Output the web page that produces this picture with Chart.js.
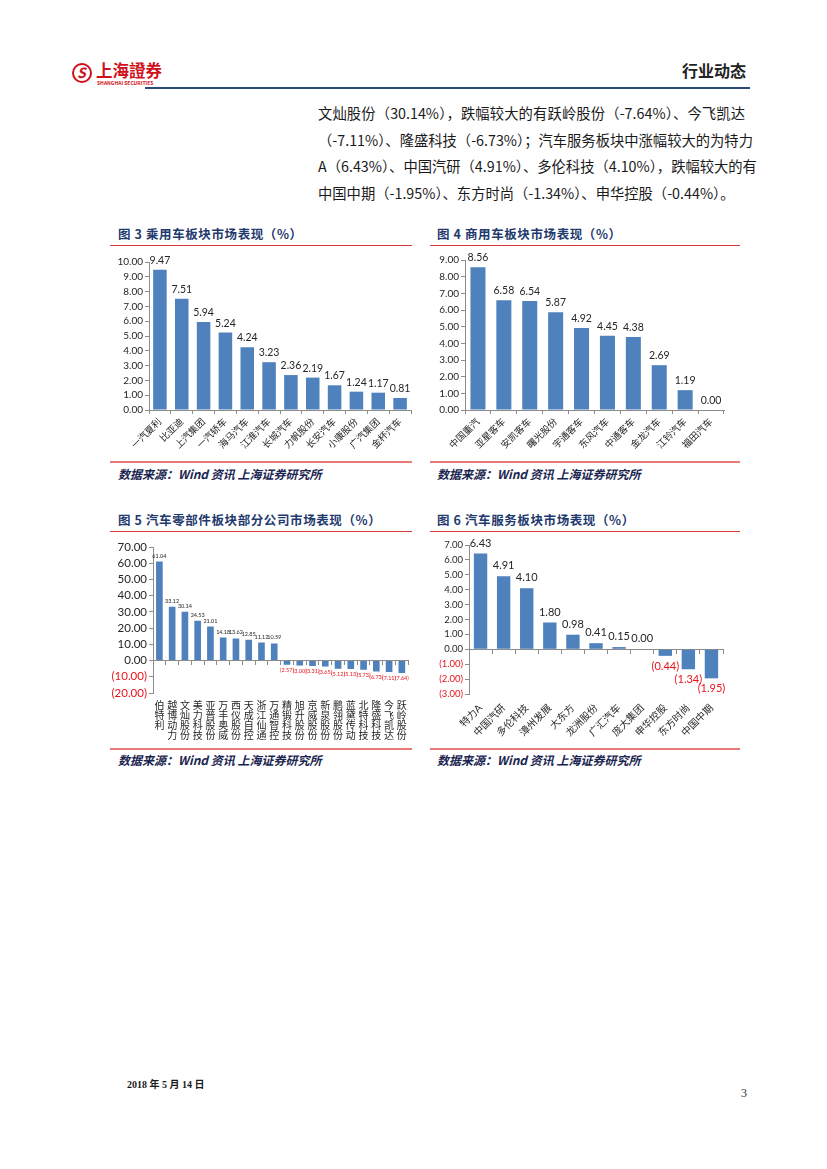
<!DOCTYPE html>
<html><head><meta charset="utf-8">
<script src="https://cdn.jsdelivr.net/npm/chart.js@4.4.0/dist/chart.umd.min.js"></script>
<style>
body{margin:0;width:827px;height:1169px;position:relative;background:#fff;font-family:"Noto Sans CJK SC",sans-serif;overflow:hidden}
.a{position:absolute;white-space:nowrap}
.body{left:318px;width:427px;font-size:14.3px;line-height:16px;color:#1a1a1a;text-align:justify;text-align-last:justify}
.title{font-size:12.5px;line-height:14px;font-weight:bold;color:#1f3a6e;letter-spacing:0.6px}
.src{font-size:12px;line-height:14px;font-weight:bold;font-style:italic;color:#1b2650}
.rl{height:1px;background:#d9383a}
.rb{height:2px;background:#e87b78}
.box{position:absolute}
</style></head><body>
<!-- header -->
<div class="a" style="left:72px;top:63px;width:16px;height:16px;border:2px solid #d0101a;border-radius:50%;"></div>
<div class="a" style="left:77px;top:63px;font-size:14px;line-height:18px;color:#d0101a;font-weight:bold;font-style:italic;">S</div>
<div class="a" style="left:96px;top:61px;font-size:16.5px;line-height:18px;color:#d0101a;font-weight:bold;">上海證券</div>
<div class="a" style="left:97px;top:80px;font-size:5px;line-height:5px;color:#d0101a;font-weight:bold;">SHANGHAI SECURITIES</div>
<div class="a" style="left:682px;top:61px;font-size:16px;line-height:18px;color:#222;font-weight:bold;">行业动态</div>
<div class="a" style="left:145px;top:87px;width:605px;height:2px;background:#2b4a7a;"></div>
<!-- body text -->
<div class="a body" style="top:105px;">文灿股份（30.14%），跌幅较大的有跃岭股份（-7.64%）、今飞凯达</div>
<div class="a body" style="top:132px;">（-7.11%）、隆盛科技（-6.73%）；汽车服务板块中涨幅较大的为特力</div>
<div class="a body" style="top:158px;">A（6.43%）、中国汽研（4.91%）、多伦科技（4.10%），跌幅较大的有</div>
<div class="a" style="left:318px;top:185px;font-size:14.3px;line-height:16px;color:#1a1a1a;">中国中期（-1.95%）、东方时尚（-1.34%）、申华控股（-0.44%）。</div>
<!-- titles & rules -->
<div class="a title" style="left:118px;top:227px;">图 3 乘用车板块市场表现（%）</div>
<div class="a title" style="left:437px;top:227px;">图 4 商用车板块市场表现（%）</div>
<div class="a rl" style="left:110px;top:245px;width:302px;"></div>
<div class="a rl" style="left:430px;top:245px;width:310px;"></div>
<div class="a rb" style="left:110px;top:461px;width:302px;"></div>
<div class="a rb" style="left:430px;top:461px;width:310px;"></div>
<div class="a src" style="left:118px;top:467px;">数据来源：Wind 资讯 上海证券研究所</div>
<div class="a src" style="left:437px;top:467px;">数据来源：Wind 资讯 上海证券研究所</div>

<div class="a title" style="left:118px;top:513px;">图 5 汽车零部件板块部分公司市场表现（%）</div>
<div class="a title" style="left:437px;top:513px;">图 6 汽车服务板块市场表现（%）</div>
<div class="a rl" style="left:110px;top:531px;width:302px;"></div>
<div class="a rl" style="left:430px;top:531px;width:310px;"></div>
<div class="a rb" style="left:110px;top:748px;width:302px;"></div>
<div class="a rb" style="left:430px;top:748px;width:310px;"></div>
<div class="a src" style="left:118px;top:753px;">数据来源：Wind 资讯 上海证券研究所</div>
<div class="a src" style="left:437px;top:753px;">数据来源：Wind 资讯 上海证券研究所</div>

<div class="box" style="left:110px;top:245px;width:305px;height:215px;"><canvas id="c3"></canvas></div>
<div class="box" style="left:430px;top:245px;width:310px;height:215px;"><canvas id="c4"></canvas></div>
<div class="box" style="left:110px;top:535px;width:305px;height:212px;"><canvas id="c5"></canvas></div>
<div class="box" style="left:430px;top:535px;width:310px;height:212px;"><canvas id="c6"></canvas></div>

<!-- footer -->
<div class="a" style="left:127px;top:1079px;font-size:10px;line-height:12px;font-weight:bold;color:#1a1a1a;font-family:'Liberation Serif','Noto Sans CJK SC',serif;">2018 年 5 月 14 日</div>
<div class="a" style="left:741px;top:1086px;font-size:12px;line-height:14px;color:#333;font-family:'Liberation Serif',serif;">3</div>

<script>
// ---- data ----
const passengerCategories = ['一汽夏利','比亚迪','上汽集团','一汽轿车','海马汽车','江淮汽车','长城汽车','力帆股份','长安汽车','小康股份','广汽集团','金杯汽车'];
const passengerValues = [9.47,7.51,5.94,5.24,4.24,3.23,2.36,2.19,1.67,1.24,1.17,0.81];

const commercialCategories = ['中国重汽','亚星客车','安凯客车','曙光股份','宇通客车','东风汽车','中通客车','金龙汽车','江铃汽车','福田汽车'];
const commercialValues = [8.56,6.58,6.54,5.87,4.92,4.45,4.38,2.69,1.19,0.00];

const partsCategories = ['伯特利','越博动力','文灿股份','美力科技','亚普股份','万丰奥威','西仪股份','天成自控','浙江仙通','万通智控','精锻科技','旭升股份','京威股份','新泉股份','鹏翎股份','蓝黛传动','北特科技','隆盛科技','今飞凯达','跃岭股份'];
const partsValues = [61.04,33.12,30.14,24.53,21.01,14.18,13.62,12.85,11.12,10.59,-2.57,-3.00,-3.31,-3.65,-5.12,-5.13,-5.73,-6.73,-7.11,-7.64];

const serviceCategories = ['特力A','中国汽研','多伦科技','漳州发展','大东方','龙洲股份','广汇汽车','庞大集团','申华控股','东方时尚','中国中期'];
const serviceValues = [6.43,4.91,4.10,1.80,0.98,0.41,0.15,0.00,-0.44,-1.34,-1.95];

const yTicks3 = {min:0, max:10, step:1};
const yTicks4 = {min:0, max:9, step:1};
const yTicks5 = {min:-20, max:70, step:10};
const yTicks6 = {min:-3, max:7, step:1};

// ---- style ----
const FONT = "Lato, 'Noto Sans CJK SC', sans-serif";
const RED = '#e8141c', GRAY = '#8c8c8c', BLUE = '#4f81bd', TXT = '#262626';
Chart.defaults.font.family = FONT;

function fmt(v){ return v < 0 ? '(' + Math.abs(v).toFixed(2) + ')' : v.toFixed(2); }

const valueLabels = {
  id: 'valueLabels',
  afterDatasetsDraw(chart, args, opts) {
    const ctx = chart.ctx;
    const meta = chart.getDatasetMeta(0);
    const data = chart.data.datasets[0].data;
    ctx.save();
    ctx.font = opts.size + 'px ' + FONT;
    ctx.textAlign = 'center';
    meta.data.forEach((bar, i) => {
      const v = data[i];
      if (v < 0) { ctx.fillStyle = RED; ctx.textBaseline = 'top'; ctx.fillText(fmt(v), bar.x, bar.y + opts.gapNeg); }
      else { ctx.fillStyle = TXT; ctx.textBaseline = 'bottom'; ctx.fillText(fmt(v), bar.x, bar.y - opts.gap); }
    });
    ctx.restore();
  }
};

function makeBar(id, labels, values, yt, c) {
  const scales = {
    x: {
      type: 'category', offset: true,
      grid: { display: !c.zeroAxis, drawOnChartArea: false, drawTicks: !c.zeroAxis, tickLength: 4, color: GRAY, offset: true },
      border: { display: !c.zeroAxis, color: GRAY },
      ticks: { autoSkip: false, minRotation: c.rot, maxRotation: c.rot, padding: c.xPad, color: TXT,
               font: { size: c.xFont, lineHeight: c.xLine || 1.2 } },
      afterFit(s) { s.height = c.xHeight; }
    }
  };
  if (c.zeroAxis) {
    scales.x0 = {
      type: 'category', axis: 'x', position: { y: 0 }, offset: true,
      grid: { drawOnChartArea: false, drawTicks: true, tickLength: 4, color: GRAY, offset: true },
      border: { display: true, color: GRAY },
      ticks: { display: false }
    };
  }
  scales.y = {
    min: yt.min, max: yt.max,
    ticks: { stepSize: yt.step, autoSkip: false, callback: v => fmt(v), padding: 2,
             color: ctx => ctx.tick.value < 0 ? RED : TXT, font: { size: c.yFont } },
    grid: { drawOnChartArea: false, drawTicks: true, tickLength: 4, color: GRAY },
    border: { display: true, color: GRAY },
    afterFit(s) { s.width = c.yWidth; }
  };
  return new Chart(document.getElementById(id), {
    type: 'bar',
    data: { labels: labels, datasets: [{ data: values, backgroundColor: BLUE, borderWidth: 0,
             barPercentage: 1, categoryPercentage: c.cat, xAxisID: 'x', yAxisID: 'y' }] },
    options: {
      responsive: true, maintainAspectRatio: false, animation: false, devicePixelRatio: 1,
      layout: { padding: { top: c.padTop, right: c.padRight, left: 0, bottom: 0 } },
      plugins: { legend: { display: false }, tooltip: { enabled: false },
                 valueLabels: { size: c.dFont, gap: c.gap, gapNeg: c.gapNeg } },
      scales: scales
    },
    plugins: [valueLabels]
  });
}

makeBar('c3', passengerCategories, passengerValues, yTicks3,
  { yWidth: 39, xHeight: 50, padTop: 17, padRight: 4, rot: 45, xPad: 2, xFont: 9.5, yFont: 10, dFont: 10.5, cat: 0.62, gap: 4, gapNeg: 4 });
makeBar('c4', commercialCategories, commercialValues, yTicks4,
  { yWidth: 35, xHeight: 50, padTop: 15, padRight: 16, rot: 45, xPad: 2, xFont: 9.5, yFont: 10, dFont: 10.5, cat: 0.58, gap: 4, gapNeg: 4 });
makeBar('c5', partsCategories.map(s => s.split('')), partsValues, yTicks5,
  { yWidth: 43, xHeight: 54, padTop: 12, padRight: 6, rot: 0, xPad: 8, xFont: 10, xLine: 0.98, yFont: 11.5, dFont: 5.5, cat: 0.52, gap: 3, gapNeg: 3, zeroAxis: true });
makeBar('c6', serviceCategories, serviceValues, yTicks6,
  { yWidth: 39, xHeight: 53, padTop: 10, padRight: 17, rot: 45, xPad: 8, xFont: 10, yFont: 9.5, dFont: 11, cat: 0.58, gap: 5, gapNeg: 5, zeroAxis: true });
</script>
</body></html>
